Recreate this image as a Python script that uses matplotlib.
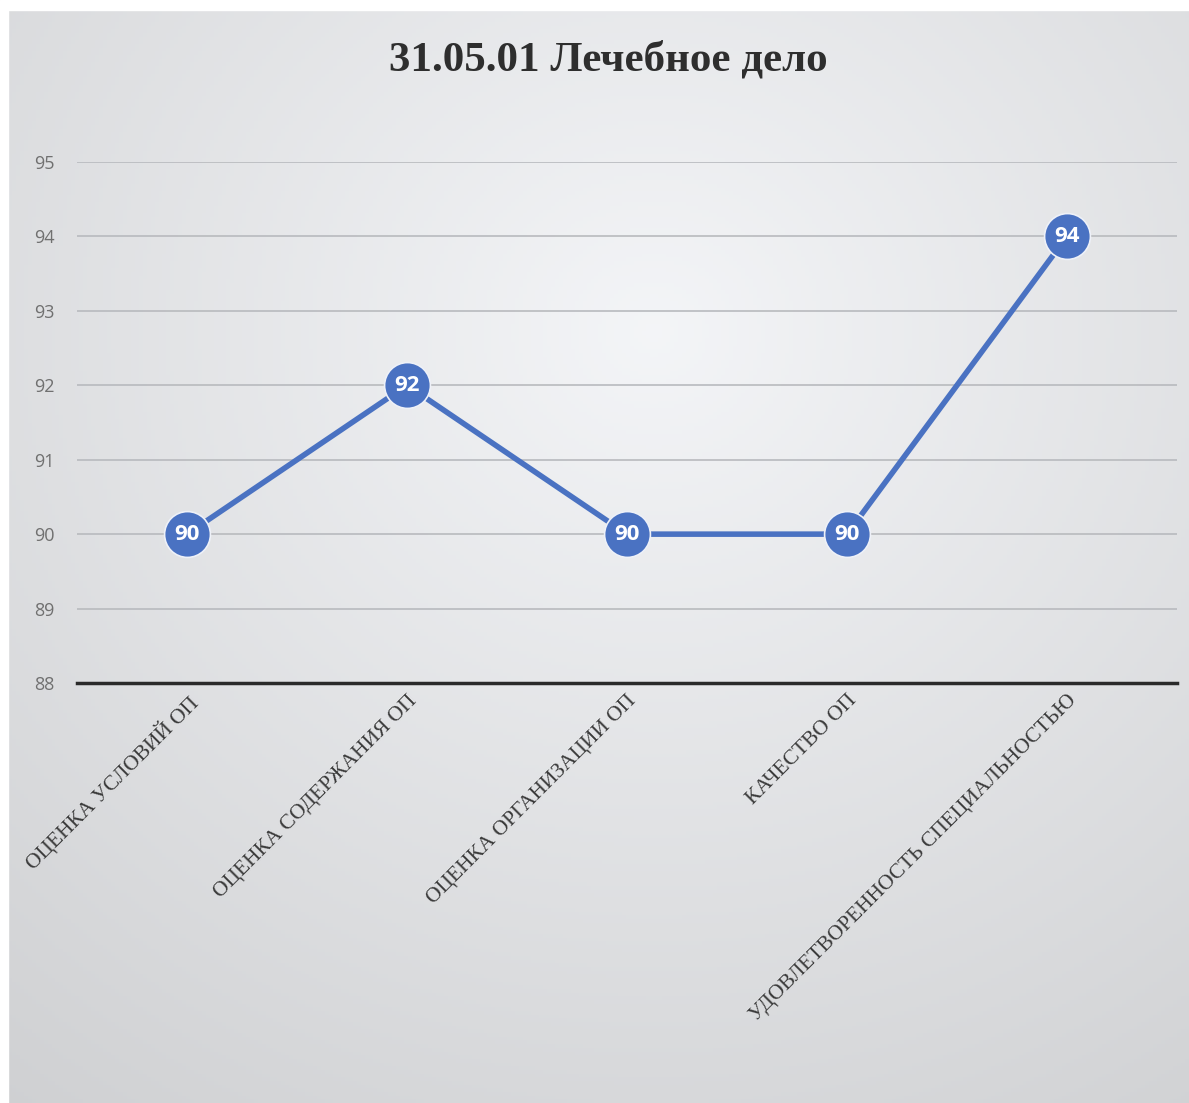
import numpy as np
import matplotlib
matplotlib.use("Agg")
import matplotlib.pyplot as plt
from matplotlib.patches import Rectangle

title = "31.05.01 Лечебное дело"
categories = ["ОЦЕНКА УСЛОВИЙ ОП", "ОЦЕНКА СОДЕРЖАНИЯ ОП", "ОЦЕНКА ОРГАНИЗАЦИИ ОП",
              "КАЧЕСТВО ОП", "УДОВЛЕТВОРЕННОСТЬ СПЕЦИАЛЬНОСТЬЮ"]
values = [90, 92, 90, 90, 94]
yticks = [88, 89, 90, 91, 92, 93, 94, 95]

W, H = 1189, 1103
fig = plt.figure(figsize=(W / 100, H / 100), dpi=100)

# photographed paper background (soft gradient)
bg = fig.add_axes([0, 0, 1, 1], zorder=-5)
yy, xx = np.mgrid[0:1:300j, 0:1:300j]
d = np.sqrt(((xx - 0.55) / 0.8) ** 2 + ((yy - 0.3) / 0.8) ** 2)
light = np.clip(0.97 - 0.13 * d, 0.80, 0.97)
img = np.dstack([light * 0.985, light * 0.99, light * 1.0])
bg.imshow(img, aspect="auto", extent=[0, 1, 0, 1], origin="upper")
bg.add_patch(Rectangle((0, 0), 8 / W, 1, color="white", transform=bg.transAxes))
bg.add_patch(Rectangle((0, 1 - 10 / H), 1, 10 / H, color="white", transform=bg.transAxes))
bg.set_xlim(0, 1); bg.set_ylim(0, 1)
bg.axis("off")

ax = fig.add_axes([77 / W, 420 / H, 1100 / W, 521 / H])
ax.patch.set_alpha(0)
x = np.arange(len(categories))
ax.plot(x, values, color="#4a72c2", lw=4.0, solid_capstyle="round", zorder=3,
        marker="o", markersize=33, markerfacecolor="#4a72c2",
        markeredgecolor="#eef1f8", markeredgewidth=1.2)
for xi, v in zip(x, values):
    ax.text(xi, v, str(v), color="white", ha="center", va="center",
            fontsize=16, fontweight="bold", family="Open Sans", zorder=4)

ax.set_xlim(-0.5, len(categories) - 0.5)
ax.set_ylim(88, 95)
ax.set_yticks(yticks)
ax.set_yticklabels([str(t) for t in yticks], family="Open Sans", fontsize=13, color="#707070")
ax.tick_params(axis="y", length=0, pad=16)
ax.tick_params(axis="x", length=0, pad=6)
ax.set_xticks(x)
ax.set_xticklabels(categories, rotation=45, ha="right", va="top", rotation_mode="anchor",
                   family="Liberation Serif", fontsize=15.5, color="#3a3a3a")
ax.grid(axis="y", color="#b8babe", lw=1.2)
for s in ["top", "right", "left"]:
    ax.spines[s].set_visible(False)
ax.spines["bottom"].set_color("#2a2a2a")
ax.spines["bottom"].set_linewidth(2.5)
ax.set_axisbelow(True)

fig.text(608 / W, 1 - 60 / H, title, ha="center", va="center", family="Liberation Serif",
         fontweight="bold", fontsize=31, color="#2e2e2e")

fig.savefig("out.png", dpi=100)
